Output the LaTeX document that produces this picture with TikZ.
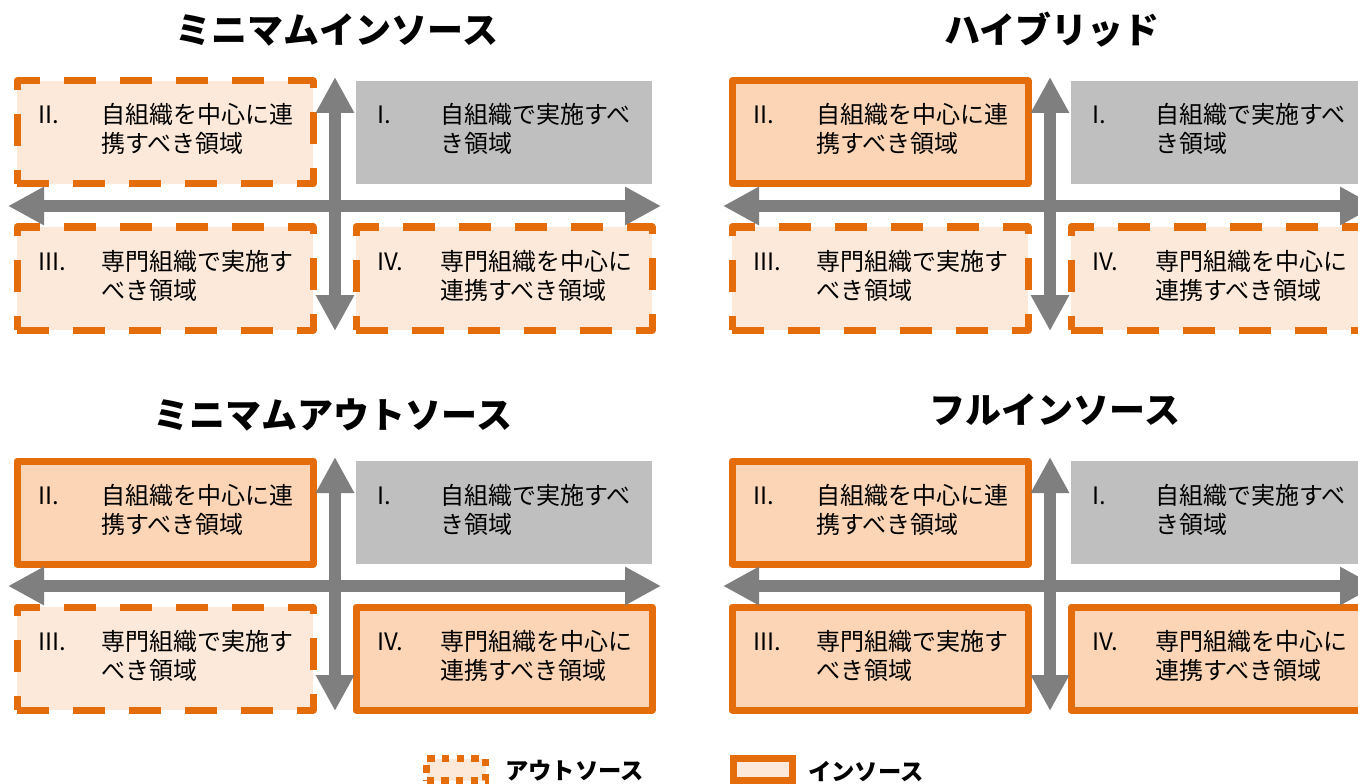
\documentclass[tikz,border=0pt]{standalone}
\usepackage{fontspec}
\setmainfont{Noto Sans CJK JP}
\usetikzlibrary{arrows.meta}
\definecolor{org}{HTML}{E46C0A}
\definecolor{lightor}{HTML}{FDE9D9}
\definecolor{midor}{HTML}{FBD5B5}
\definecolor{grayb}{HTML}{BFBFBF}
\definecolor{axgray}{HTML}{7F7F7F}
\tikzset{
  quad/.style={minimum width=222pt, minimum height=77.25pt, inner sep=0pt, outer sep=0pt, line width=5.25pt, line join=round},
  outsrc/.style={quad, draw=org, fill=lightor, dash pattern=on 24pt off 18pt},
  insrc/.style={quad, draw=org, fill=midor},
  own/.style={quad, fill=grayb},
  qtxt/.style={anchor=base west, inner sep=0pt, font=\fontsize{18}{22}\selectfont},
  ttl/.style={inner sep=0pt, font=\fontsize{27}{32}\selectfont\bfseries},
  legtxt/.style={anchor=west, inner sep=0pt, font=\fontsize{17.5}{21}\selectfont\bfseries},
  legbox/.style={minimum width=44.25pt, minimum height=16.5pt, inner sep=0pt, outer sep=0pt, line width=5.25pt, draw=org, fill=lightor},
  legout/.style={legbox, dash pattern=on 5.5pt off 5.5pt},
  legin/.style={legbox},
  axis/.style={draw=axgray, line width=9pt, {Triangle[length=27pt,width=27pt]}-{Triangle[length=27pt,width=27pt]}},
}
\newcommand\quadrant[7]{%
  \node[#2] (#1) at ({#3+148},{#4+51.5}) {};
  \node[qtxt] (#1n) at ({#3+21},{#4+43}) {#5};
  \node[qtxt] (#1a) at ({#3+84},{#4+43}) {#6};
  \node[qtxt] (#1b) at ({#3+84},{#4+72}) {#7};
}
\newcommand\panel[6]{%
  \quadrant{#1qb}{#4}{#2+17}{#3+81}{II.}{自組織を中心に連}{携すべき領域}
  \quadrant{#1qa}{own}{#2+356}{#3+81}{I.}{自組織で実施すべ}{き領域}
  \quadrant{#1qc}{#5}{#2+17}{#3+227}{III.}{専門組織で実施す}{べき領域}
  \quadrant{#1qd}{#6}{#2+356}{#3+227}{IV.}{専門組織を中心に}{連携すべき領域}
  \coordinate (#1L) at ({#2+8},{#3+206});
  \coordinate (#1R) at ({#2+661},{#3+206});
  \coordinate (#1T) at ({#2+335},{#3+77});
  \coordinate (#1B) at ({#2+335},{#3+331});
  \draw[axis] (#1L) -- (#1R);
  \draw[axis] (#1T) -- (#1B);
}
\begin{document}
\begin{tikzpicture}[x=0.75pt, y=-0.75pt]
\useasboundingbox (0,0) rectangle (1358,784);
\fill[white] (0,0) rectangle (1358,784);
\clip (0,0) rectangle (1358,784);
\panel{pa}{0}{0}{outsrc}{outsrc}{outsrc}
\panel{pb}{715}{0}{insrc}{outsrc}{outsrc}
\panel{pc}{0}{380}{insrc}{outsrc}{insrc}
\panel{pd}{715}{380}{insrc}{insrc}{insrc}
\node[ttl] (t1) at (337,30) {ミニマムインソース};
\node[ttl] (t2) at (1052,30) {ハイブリッド};
\node[ttl] (t3) at (333,415) {ミニマムアウトソース};
\node[ttl] (t4) at (1055,410) {フルインソース};
\node[legout] (lg1) at (456,769.5) {};
\node[legtxt] (lg1t) at (505,771) {アウトソース};
\node[legin] (lg2) at (762.5,769.5) {};
\node[legtxt] (lg2t) at (808,771) {インソース};
\end{tikzpicture}
\end{document}
